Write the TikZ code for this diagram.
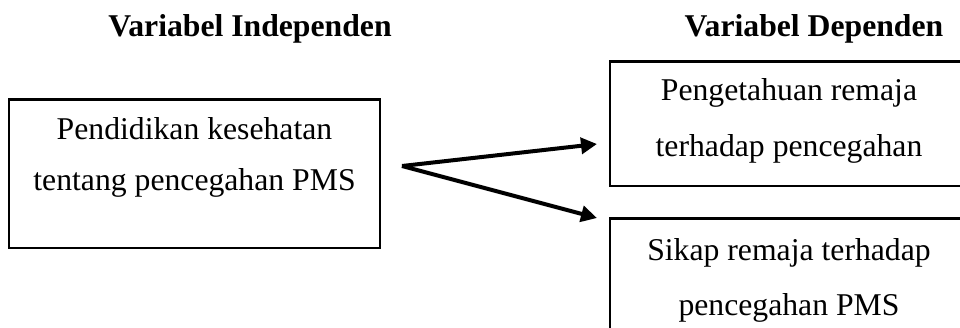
\documentclass[tikz,border=0pt]{standalone}
\usepackage{fontspec}
\setmainfont{Liberation Serif}
\usetikzlibrary{arrows.meta}

\tikzset{
  framebox/.style={draw=black, line width=2.4pt, fill=none},
  bodytext/.style={anchor=base, inner sep=0pt, font=\fontsize{31.7}{38}\selectfont},
  headtext/.style={anchor=base, inner sep=0pt, font=\fontsize{31.7}{38}\selectfont\bfseries},
  link/.style={line width=4pt, -{Triangle[length=16pt, width=16pt]}}
}

\begin{document}
\begin{tikzpicture}[x=1pt, y=-1pt]
  \useasboundingbox (0,0) rectangle (960,327);
  \clip (0,0) rectangle (960,327);

  % column headings
  \node[headtext] (hind) at (250,36) {Variabel Independen};
  \node[headtext] (hdep) at (814,36) {Variabel Dependen};

  % independent variable
  \draw[framebox] (9,99.5) rectangle (380,248);
  \node[bodytext] (ind1) at (194.5,139.5) {Pendidikan kesehatan};
  \node[bodytext] (ind2) at (194.5,190.5) {tentang pencegahan PMS};

  % dependent variables
  \draw[framebox] (610,61.5) rectangle (968,186);
  \node[bodytext] (dep1a) at (789,100.5) {Pengetahuan remaja};
  \node[bodytext] (dep1b) at (789,156) {terhadap pencegahan};

  \draw[framebox] (610,218.5) rectangle (968,340);
  \node[bodytext] (dep2a) at (789,260.5) {Sikap remaja terhadap};
  \node[bodytext] (dep2b) at (789,315) {pencegahan PMS};

  % connectors
  \coordinate (src) at (402,166);
  \coordinate (tgtA) at (597,144);
  \coordinate (tgtB) at (597,218);
  \draw[link] (src) -- (tgtA);
  \draw[link] (src) -- (tgtB);
\end{tikzpicture}
\end{document}
